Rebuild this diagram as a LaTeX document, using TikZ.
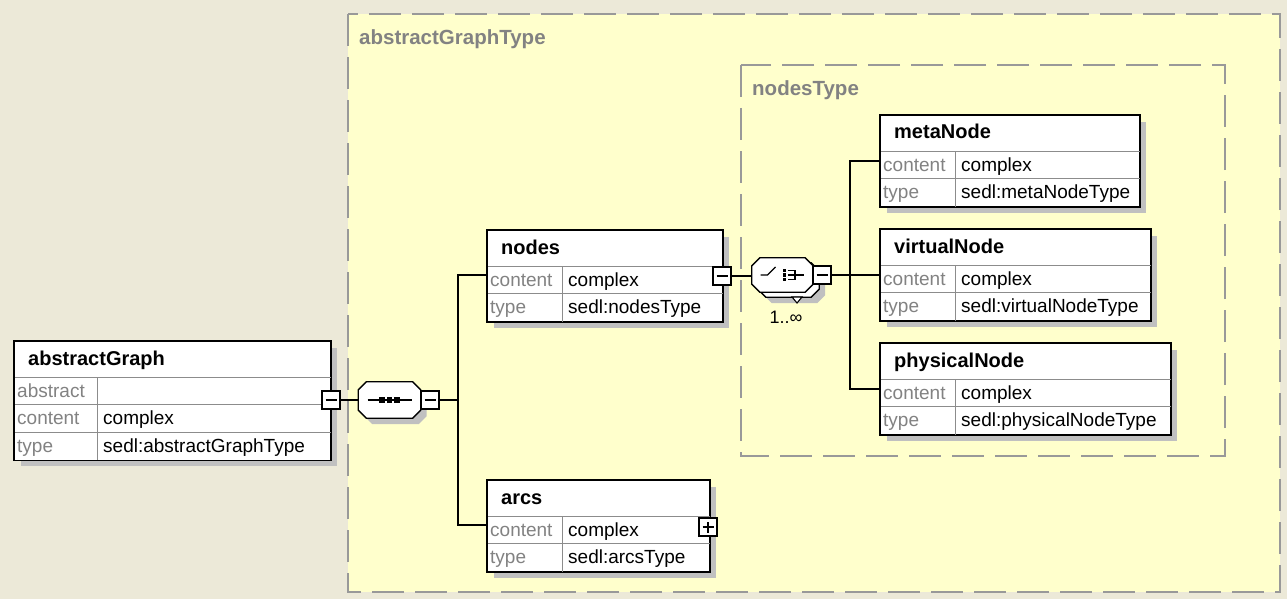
\documentclass[tikz,border=0pt]{standalone}
\usepackage{fontspec}
\setmainfont{Liberation Sans}
\usetikzlibrary{shadows}

\definecolor{bgcol}{RGB}{236,233,216}
\definecolor{typefill}{RGB}{255,255,204}
\definecolor{dashgray}{RGB}{153,153,153}
\definecolor{shadowgray}{RGB}{192,192,192}
\definecolor{labelgray}{RGB}{130,130,130}
\definecolor{rulegray}{RGB}{140,140,140}

\tikzset{
  typebox/.style={draw=dashgray, line width=2pt, dash pattern=on 32pt off 11pt, fill=typefill},
  typelabel/.style={anchor=base west, inner sep=0, text=labelgray,
    font=\fontsize{20.5}{24}\selectfont\bfseries},
  elbox/.style={draw=black, line width=1.3pt, fill=white, inner sep=0, anchor=north west,
    drop shadow={shadow xshift=6pt, shadow yshift=-6pt, fill=shadowgray, opacity=1}},
  eltitle/.style={anchor=base west, inner sep=0, font=\fontsize{20}{24}\selectfont\bfseries},
  rowsep/.style={draw=rulegray, line width=1pt},
  rowlabel/.style={anchor=base west, inner sep=0, text=labelgray, font=\fontsize{19}{22}\selectfont},
  rowvalue/.style={anchor=base west, inner sep=0, font=\fontsize{19}{22}\selectfont},
  pmbox/.style={draw=black, line width=1.2pt, fill=white, minimum size=18pt, inner sep=0},
  minusbox/.style={pmbox, path picture={
    \draw[line width=1.2pt] ([xshift=3.5pt]path picture bounding box.west) -- ([xshift=-3.5pt]path picture bounding box.east);}},
  plusbox/.style={pmbox, path picture={
    \draw[line width=1.2pt] ([xshift=3.5pt]path picture bounding box.west) -- ([xshift=-3.5pt]path picture bounding box.east);
    \draw[line width=1.2pt] ([yshift=3.5pt]path picture bounding box.south) -- ([yshift=-3.5pt]path picture bounding box.north);}},
  compnode/.style={rectangle, inner sep=0},
  octline/.style={draw=black, line width=1.3pt, fill=white},
  octshadow/.style={fill=shadowgray, transform canvas={shift={(6pt,-6pt)}}},
  conn/.style={draw=black, line width=1.3pt},
  icon/.style={draw=black, line width=1.2pt},
}

% octagonal compositor outline around a node: style, node, chamfer
\newcommand\octagon[3]{%
  \path[#1] ([xshift=#3]#2.north west) -- ([xshift=-#3]#2.north east)
    -- ([yshift=-#3]#2.north east) -- ([yshift=#3]#2.south east)
    -- ([xshift=-#3]#2.south east) -- ([xshift=#3]#2.south west)
    -- ([yshift=#3]#2.south west) -- ([yshift=-#3]#2.north west) -- cycle;}

% element box: name, left, top, width, number of rows, label column width, title
\newcommand\xelem[7]{%
  \node[elbox, minimum width=#4, minimum height={36+27.5*#5}] (#1) at (#2,#3) {};
  \node[eltitle] (#1-title) at ([shift={(14,24)}]#1.north west) {#7};
  \foreach \i in {1,...,#5} {
    \draw[rowsep] ([shift={(0,{36+27.5*(\i-1)})}]#1.north west) -- ([shift={(0,{36+27.5*(\i-1)})}]#1.north east);
  }
  \draw[rowsep] ([shift={(#6,36)}]#1.north west) -- ([xshift=#6]#1.south west);
  \draw[draw=black, line width=1.3pt] (#1.north west) rectangle (#1.south east);
}
% one row: element, row index, label column width, row name, label, value
\newcommand\xrow[6]{%
  \node[rowlabel] (#4-l) at ([shift={(3,{36+27.5*#2+20})}]#1.north west) {#5};
  \node[rowvalue] (#4-v) at ([shift={({#3+6},{36+27.5*#2+20})}]#1.north west) {#6};
}

\begin{document}
\begin{tikzpicture}[x=1pt, y=-1pt]
\useasboundingbox (0,0) rectangle (1287,599);
\fill[bgcol] (0,0) rectangle (1287,599);

% complex type frames
\draw[typebox] (348,14) rectangle (1280,592);
\node[typelabel] (agtype) at (359,45) {abstractGraphType};
\draw[typebox] (741,65) rectangle (1225,456);
\node[typelabel] (ntype) at (752,96) {nodesType};

% root element
\xelem{ag}{14}{341}{316}{3}{83}{abstractGraph}
\node[rowlabel] (ag-abstract-l) at ([shift={(3,56)}]ag.north west) {abstract};
\xrow{ag}{1}{83}{ag-content}{content}{complex}
\xrow{ag}{2}{83}{ag-type}{type}{sedl:abstractGraphType}
\node[minusbox] (ag-m) at (331,400) {};

% sequence compositor
\node[compnode, minimum width=62pt, minimum height=36pt] (seq) at (389.5,400) {};
\octagon{octshadow}{seq}{8pt}
\octagon{octline}{seq}{8pt}
\draw[icon] ([xshift=-22pt]seq.center) -- ([xshift=22pt]seq.center);
\foreach \dx in {-7.5,0,7.5}
  \fill ([shift={({\dx-2.7},-2.7)}]seq.center) rectangle ([shift={({\dx+2.7},2.7)}]seq.center);
\node[minusbox] (seq-m) at (430,400) {};
\coordinate (seqbus) at (458,400);

% children of the sequence
\xelem{nodes}{487}{230}{235}{2}{75}{nodes}
\xrow{nodes}{0}{75}{nodes-content}{content}{complex}
\xrow{nodes}{1}{75}{nodes-type}{type}{sedl:nodesType}
\node[minusbox] (nodes-m) at (722,276) {};

\xelem{arcs}{487}{480}{222}{2}{75}{arcs}
\xrow{arcs}{0}{75}{arcs-content}{content}{complex}
\xrow{arcs}{1}{75}{arcs-type}{type}{sedl:arcsType}
\node[plusbox] (arcs-p) at (708,527) {};

\draw[conn] (ag-m.east) -- (seq.west);
\draw[conn] (seq-m.east) -- (seqbus);
\draw[conn] ([yshift=-45pt]nodes.north west) -| (seqbus) |- ([yshift=-45pt]arcs.north west);

% choice compositor (1..unbounded): stacked copy behind the front outline
\node[compnode, minimum width=61pt, minimum height=34pt] (choice-back) at (788.5,280) {};
\octagon{octshadow}{choice-back}{8pt}
\octagon{octline}{choice-back}{8pt}
\draw[draw=black, line width=1.1pt, fill=white] (792,297) -- (802,297) -- (797,303) -- cycle;
\node[compnode, minimum width=61pt, minimum height=34pt] (choice) at (782.5,275) {};
\octagon{octline}{choice}{8pt}
\draw[icon] ([xshift=-22pt]choice.center) -- ([xshift=-15pt]choice.center) -- ([shift={(-7,-8)}]choice.center);
\foreach \dy in {-4.5,0,4.5}
  \fill ([shift={(0,{\dy-1.6})}]choice.center) rectangle ([shift={(3.4,{\dy+1.6})}]choice.center);
\draw[icon] ([shift={(5,-4.5)}]choice.center) -- ([shift={(12.5,-4.5)}]choice.center) -- ([shift={(12.5,4.5)}]choice.center) -- ([shift={(5,4.5)}]choice.center);
\draw[icon] ([xshift=5pt]choice.center) -- ([xshift=21pt]choice.center);
\node[minusbox] (choice-m) at (822,275) {};
\node[anchor=center, inner sep=0, font=\fontsize{18}{20}\selectfont] (choice-card) at (786,317) {1..∞};
\coordinate (choicebus) at (850,275);

\draw[conn] (nodes-m.east) -- (nodes-m.east -| choice.west);

% children of the choice
\xelem{meta}{880}{115}{259}{2}{75}{metaNode}
\xrow{meta}{0}{75}{meta-content}{content}{complex}
\xrow{meta}{1}{75}{meta-type}{type}{sedl:metaNodeType}

\xelem{virtual}{880}{229}{270}{2}{75}{virtualNode}
\xrow{virtual}{0}{75}{virtual-content}{content}{complex}
\xrow{virtual}{1}{75}{virtual-type}{type}{sedl:virtualNodeType}

\xelem{physical}{880}{343}{290}{2}{75}{physicalNode}
\xrow{physical}{0}{75}{physical-content}{content}{complex}
\xrow{physical}{1}{75}{physical-type}{type}{sedl:physicalNodeType}

\draw[conn] (choice-m.east) -- ([yshift=-46pt]virtual.north west);
\draw[conn] ([yshift=-46pt]meta.north west) -| (choicebus) |- ([yshift=-46pt]physical.north west);
\end{tikzpicture}
\end{document}
